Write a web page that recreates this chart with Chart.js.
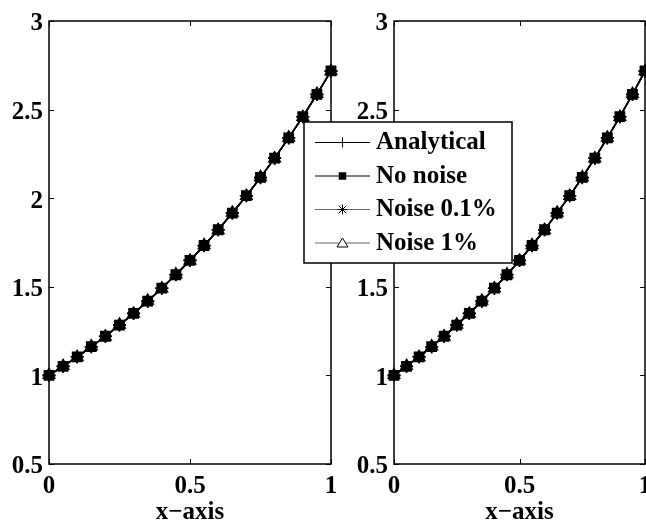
<!DOCTYPE html>
<html>
<head>
<meta charset="utf-8">
<script src="https://cdn.jsdelivr.net/npm/chart.js@4/dist/chart.umd.min.js"></script>
<style>
  html, body { margin: 0; padding: 0; background: #fff; }
  #wrap { position: relative; width: 646px; height: 523px; }
  #wrap canvas { position: absolute; left: 0; top: 0; }
</style>
</head>
<body>
<div id="wrap">
  <canvas id="leftPlot" width="646" height="523"></canvas>
  <canvas id="rightPlot" width="646" height="523"></canvas>
</div>
<script>
// values
const xValues = [0, 0.05, 0.1, 0.15, 0.2, 0.25, 0.3, 0.35, 0.4, 0.45, 0.5,
  0.55, 0.6, 0.65, 0.7, 0.75, 0.8, 0.85, 0.9, 0.95, 1];
const analytical = [1.000, 1.051, 1.105, 1.162, 1.221, 1.284, 1.350, 1.419, 1.492, 1.568, 1.649,
  1.733, 1.822, 1.916, 2.014, 2.117, 2.226, 2.340, 2.460, 2.586, 2.718];
const noNoise = [1.000, 1.051, 1.105, 1.162, 1.221, 1.284, 1.350, 1.419, 1.492, 1.568, 1.649,
  1.733, 1.822, 1.916, 2.014, 2.117, 2.226, 2.340, 2.460, 2.586, 2.718];
const noise01 = [1.000, 1.052, 1.105, 1.161, 1.221, 1.285, 1.350, 1.418, 1.492, 1.569, 1.649,
  1.732, 1.822, 1.917, 2.014, 2.116, 2.226, 2.341, 2.460, 2.585, 2.718];
const noise1 = [1.002, 1.053, 1.103, 1.164, 1.219, 1.286, 1.348, 1.421, 1.490, 1.570, 1.647,
  1.735, 1.820, 1.918, 2.012, 2.119, 2.224, 2.342, 2.458, 2.588, 2.716];
const xTicks = [0, 0.5, 1];
const yTicks = [0.5, 1, 1.5, 2, 2.5, 3];
const seriesNames = ["Analytical", "No noise", "Noise 0.1%", "Noise 1%"];

const FONT = '"Liberation Serif", "Times New Roman", serif';

function toPoints(ys) {
  return xValues.map((x, i) => ({ x: x, y: ys[i] }));
}

function marker(ctx, style, x, y, r) {
  ctx.save();
  ctx.strokeStyle = "#000";
  ctx.fillStyle = "#000";
  ctx.lineWidth = 1;
  ctx.beginPath();
  if (style === "cross") {
    ctx.moveTo(x - r, y); ctx.lineTo(x + r, y);
    ctx.moveTo(x, y - r); ctx.lineTo(x, y + r);
    ctx.stroke();
  } else if (style === "rect") {
    ctx.fillRect(x - r * 0.75, y - r * 0.75, r * 1.5, r * 1.5);
  } else if (style === "star") {
    ctx.moveTo(x - r, y); ctx.lineTo(x + r, y);
    ctx.moveTo(x, y - r); ctx.lineTo(x, y + r);
    const d = r * 0.75;
    ctx.moveTo(x - d, y - d); ctx.lineTo(x + d, y + d);
    ctx.moveTo(x - d, y + d); ctx.lineTo(x + d, y - d);
    ctx.stroke();
  } else if (style === "triangle") {
    ctx.fillStyle = "#fff";
    ctx.moveTo(x, y - r);
    ctx.lineTo(x + r * 1.1, y + r * 0.8);
    ctx.lineTo(x - r * 1.1, y + r * 0.8);
    ctx.closePath();
    ctx.fill();
    ctx.stroke();
  }
  ctx.restore();
}

// axes box with inward ticks on all four sides
const boxPlugin = {
  id: "box",
  beforeDatasetsDraw(chart) {
    const { ctx, chartArea: a, scales } = chart;
    ctx.save();
    ctx.strokeStyle = "#000";
    ctx.lineWidth = 1.5;
    ctx.strokeRect(a.left, a.top, a.right - a.left, a.bottom - a.top);
    ctx.lineWidth = 1;
    ctx.beginPath();
    xTicks.forEach(v => {
      const px = Math.round(scales.x.getPixelForValue(v)) + 0.5;
      ctx.moveTo(px, a.bottom); ctx.lineTo(px, a.bottom - 5);
      ctx.moveTo(px, a.top); ctx.lineTo(px, a.top + 5);
    });
    yTicks.forEach(v => {
      const py = Math.round(scales.y.getPixelForValue(v)) + 0.5;
      ctx.moveTo(a.left, py); ctx.lineTo(a.left + 5, py);
      ctx.moveTo(a.right, py); ctx.lineTo(a.right - 5, py);
    });
    ctx.stroke();
    ctx.restore();
  }
};

const legendPlugin = {
  id: "boxLegend",
  afterDraw(chart) {
    const { ctx } = chart;
    const left = 304, top = 122, w = 208, h = 141;
    const styles = ["cross", "rect", "star", "triangle"];
    const lineColors = ["#000", "#000", "#666", "#666"];
    ctx.save();
    ctx.fillStyle = "#fff";
    ctx.fillRect(left, top, w, h);
    ctx.strokeStyle = "#000";
    ctx.lineWidth = 1.5;
    ctx.strokeRect(left, top, w, h);
    ctx.font = "bold 25px " + FONT;
    ctx.textBaseline = "middle";
    seriesNames.forEach((name, i) => {
      const y = top + 20 + i * 33.5;
      ctx.strokeStyle = lineColors[i];
      ctx.lineWidth = 1;
      ctx.beginPath();
      ctx.moveTo(315, y + 0.5); ctx.lineTo(370, y + 0.5);
      ctx.stroke();
      marker(ctx, styles[i], 342.5, y + 0.5, 5);
      ctx.fillStyle = "#000";
      ctx.fillText(name, 376, y + 1);
    });
    ctx.restore();
  }
};

function makeChart(id, padLeft, padRight, withLegend) {
  const styles = ["cross", "rect", "star", "triangle"];
  const series = [analytical, noNoise, noise01, noise1];
  const datasets = series.map((ys, i) => ({
    label: seriesNames[i],
    data: toPoints(ys),
    borderColor: "#000",
    borderWidth: 1.5,
    pointStyle: styles[i],
    pointRadius: 6.5,
    pointBorderColor: "#000",
    pointBackgroundColor: styles[i] === "triangle" ? "rgba(255,255,255,0)" : "#000",
    pointBorderWidth: 1.6,
    tension: 0,
    fill: false,
    clip: false
  }));
  const fixTicks = list => scale => { scale.ticks = list.map(v => ({ value: v })); };
  return new Chart(document.getElementById(id), {
    type: "line",
    data: { datasets: datasets },
    options: {
      responsive: false,
      animation: false,
      layout: { autoPadding: false, padding: { top: 21, left: padLeft, right: padRight, bottom: 0 } },
      plugins: { legend: { display: false }, tooltip: { enabled: false } },
      scales: {
        x: {
          type: "linear", min: 0, max: 1,
          afterBuildTicks: fixTicks(xTicks),
          afterFit: s => { s.height = 59; s.paddingLeft = 0; s.paddingRight = 0; },
          grid: { display: false, drawTicks: false },
          border: { display: false },
          ticks: {
            padding: 8, color: "#000", maxRotation: 0,
            font: { family: FONT, size: 25, weight: "bold" },
            callback: v => String(v)
          },
          title: {
            display: true, text: "x\u2212axis", color: "#000",
            padding: { top: 0, bottom: 0 },
            font: { family: FONT, size: 25, weight: "bold", lineHeight: 0.8 }
          }
        },
        y: {
          min: 0.5, max: 3,
          afterBuildTicks: fixTicks(yTicks),
          afterFit: s => { s.width = 49; s.paddingTop = 0; s.paddingBottom = 0; },
          grid: { display: false, drawTicks: false },
          border: { display: false },
          ticks: {
            padding: 6, color: "#000", labelOffset: 3,
            font: { family: FONT, size: 25, weight: "bold" },
            callback: v => String(v)
          }
        }
      }
    },
    plugins: withLegend ? [boxPlugin, legendPlugin] : [boxPlugin]
  });
}

makeChart("leftPlot", 0, 315, false);
makeChart("rightPlot", 345, 1, true);
</script>
</body>
</html>
